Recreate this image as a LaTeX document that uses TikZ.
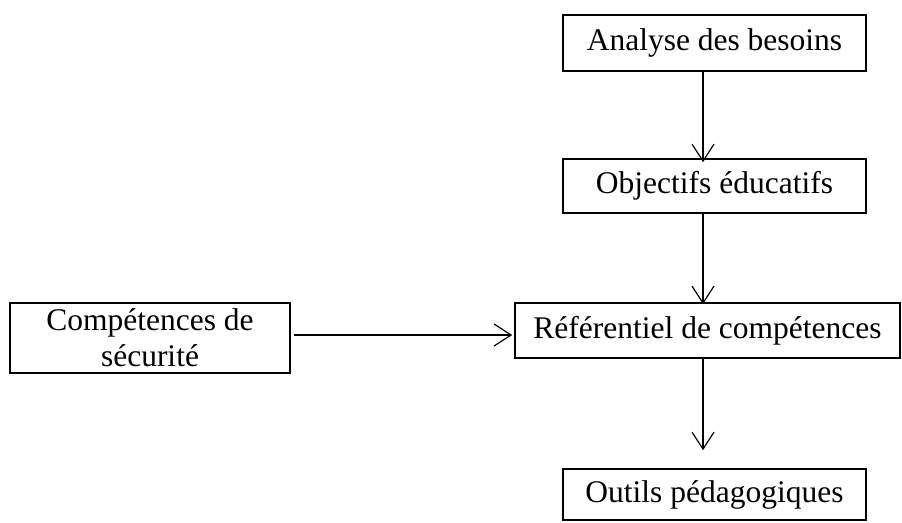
\documentclass[tikz,border=0pt]{standalone}
\usepackage{fontspec}
\setmainfont{Liberation Serif}
\usepackage{tikz}
\usetikzlibrary{arrows.meta}

\begin{document}
\begin{tikzpicture}[x=1pt, y=-1pt,
		etape/.style={draw, line width=1.6pt, inner sep=0pt, minimum width=303pt, minimum height=55pt, align=center, font=\fontsize{31.5}{30}\selectfont},
		fleche/.style={line width=1.2pt, -{Straight Barb[length=17pt, width=22pt]}}]
			%%%%% START %%%%%
			
			\useasboundingbox (0, 0) rectangle (902, 522);
			
			\node[etape, minimum height=56pt] (analyse) at (714.5, 43) {Analyse des besoins};
			\node[etape, minimum height=54pt] (objectifs) at (714.5, 186) {Objectifs éducatifs};
			\node[etape, minimum width=385pt] (referentiel) at (707.5, 330.5) {Référentiel de compétences};
			\node[etape, minimum width=280pt, minimum height=70pt] (securite) at (150, 338) {Compétences de\\[6pt]sécurité};
			\node[etape, minimum height=51pt] (outils) at (714.5, 494.5) {Outils pédagogiques};
			
			\draw[fleche] ([xshift=-11.5pt]analyse.south) -- ([xshift=-11.5pt, yshift=-4pt]objectifs.north);
			\draw[fleche] ([xshift=-11.5pt]objectifs.south) -- ([xshift=-4.5pt, yshift=-2pt]referentiel.north);
			\draw[fleche] ([xshift=-4.5pt]referentiel.south) -- ([xshift=-11.5pt, yshift=18pt]outils.north);
			\draw[fleche] ([xshift=3pt, yshift=3pt]securite.east) -- ([xshift=-2pt, yshift=-4.5pt]referentiel.west);
			
			%%%%% END %%%%%
		\end{tikzpicture}
\end{document}
